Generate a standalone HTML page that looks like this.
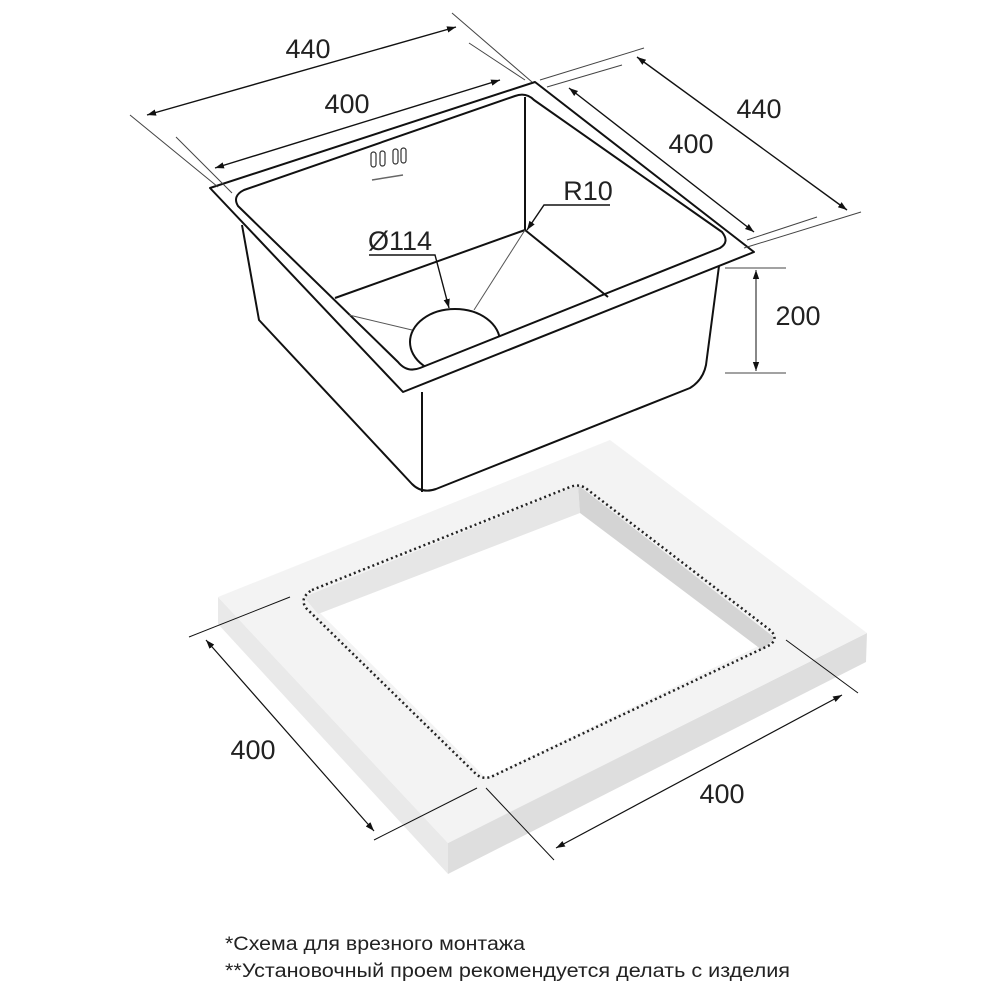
<!DOCTYPE html>
<html><head><meta charset="utf-8"><style>
html,body{margin:0;padding:0;background:#fff;}
svg{display:block;}
text{font-family:"Liberation Sans","DejaVu Sans",sans-serif;fill:#222;}
</style></head><body>
<svg width="1000" height="1000" viewBox="0 0 1000 1000" xmlns="http://www.w3.org/2000/svg">
<defs>
<marker id="ar" viewBox="0 0 10 10" refX="10" refY="5" markerWidth="9" markerHeight="9" orient="auto-start-reverse" markerUnits="userSpaceOnUse"><path d="M0,1.5 L10,5 L0,8.5 z" fill="#111"/></marker>
<clipPath id="bowl"><path d="M244,190 L515,96 Q526,92 534,100 L722,232 Q730,242 720,248 L420,368 Q407,373 398,362 L238,206 Q232,196 244,190 Z"/></clipPath>
</defs>

<!-- countertop slab -->
<polygon points="218,597 218,624 448,874 448,843" fill="#e9e9e9"/>
<polygon points="448,843 448,874 866,662 867,633" fill="#dedede"/>
<polygon points="218,597 610,440 867,633 448,843" fill="#f3f3f3"/>
<!-- hole -->
<polygon points="304,597 578,485 775,638 486,778" fill="#fff"/>
<polygon points="304,597 578,485 580,513 318,614" fill="#e6e6e6"/>
<polygon points="578,485 775,638 762,650 580,513" fill="#d4d4d4"/>
<path d="M312,590 L570,487 Q580,483 588,490 L770,630 Q779,638 770,645 L495,775 Q484,781 476,774 L306,608 Q299,598 312,590 Z" fill="none" stroke="#222" stroke-width="2.5" stroke-dasharray="2,3"/>

<!-- sink body -->
<g fill="none" stroke="#111" stroke-width="2" stroke-linejoin="round">
<path d="M242,225 L259,320 L412,484 Q422,494 436,489 L690,388 Q703,380 706,365 L719,266" fill="#fff"/>
<line x1="422" y1="392" x2="422" y2="492"/>
<path d="M210,188 L535,82 L754,252 L403,392 Z" fill="#fff"/>
<line x1="525" y1="97" x2="525" y2="230"/>
<line x1="335" y1="298" x2="525" y2="230"/>
<line x1="525" y1="230" x2="608" y2="297"/>
<ellipse cx="455" cy="342" rx="45" ry="33" fill="#fff" clip-path="url(#bowl)"/>
<path d="M244,190 L515,96 Q526,92 534,100 L722,232 Q730,242 720,248 L420,368 Q407,373 398,362 L238,206 Q232,196 244,190 Z"/>
</g>
<g stroke="#555" stroke-width="1" fill="none">
<line x1="349" y1="315" x2="412" y2="330"/>
<line x1="474" y1="310" x2="525" y2="230"/>
</g>
<!-- overflow -->
<g fill="none" stroke="#333" stroke-width="1.2">
<rect x="371" y="152" width="5" height="15" rx="2.5"/>
<rect x="380" y="151" width="5" height="15" rx="2.5"/>
<rect x="393" y="149" width="5" height="15" rx="2.5"/>
<rect x="401" y="148" width="5" height="15" rx="2.5"/>
</g>
<line x1="372" y1="180" x2="403" y2="175" stroke="#666" stroke-width="1.5"/>

<!-- dimension extension lines top -->
<g stroke="#444" stroke-width="1">
<line x1="130" y1="115" x2="218" y2="187"/>
<line x1="176" y1="137" x2="232" y2="193"/>
<line x1="452" y1="13" x2="532" y2="82"/>
<line x1="469" y1="43" x2="525" y2="80"/>
<line x1="540" y1="80" x2="644" y2="48"/>
<line x1="547" y1="87" x2="622" y2="65"/>
<line x1="744" y1="248" x2="861" y2="212"/>
<line x1="747" y1="240" x2="817" y2="217"/>
<line x1="725" y1="268" x2="786" y2="268"/>
<line x1="725" y1="373" x2="786" y2="373"/>
</g>
<g stroke="#111" stroke-width="1.4" fill="none">
<line x1="147" y1="115" x2="456" y2="27" marker-start="url(#ar)" marker-end="url(#ar)"/>
<line x1="215" y1="168" x2="500" y2="80" marker-start="url(#ar)" marker-end="url(#ar)"/>
<line x1="637" y1="57" x2="847" y2="210" marker-start="url(#ar)" marker-end="url(#ar)"/>
<line x1="569" y1="88" x2="754" y2="232" marker-start="url(#ar)" marker-end="url(#ar)"/>
<line x1="756" y1="270" x2="756" y2="371" marker-start="url(#ar)" marker-end="url(#ar)" stroke-width="1"/>
<polyline points="610,205 544,205 527,230" marker-end="url(#ar)"/>
<polyline points="369,255 435,255 449,308" marker-end="url(#ar)"/>
</g>
<text x="308" y="58" font-size="27" text-anchor="middle">440</text>
<text x="347" y="113" font-size="27" text-anchor="middle">400</text>
<text x="759" y="118" font-size="27" text-anchor="middle">440</text>
<text x="691" y="153" font-size="27" text-anchor="middle">400</text>
<text x="588" y="200" font-size="27" text-anchor="middle">R10</text>
<text x="400" y="250" font-size="27" text-anchor="middle">Ø114</text>
<text x="798" y="325" font-size="27" text-anchor="middle">200</text>

<!-- bottom dims -->
<g stroke="#111" stroke-width="1">
<line x1="189" y1="637" x2="290" y2="597"/>
<line x1="374" y1="840" x2="477" y2="788"/>
<line x1="786" y1="640" x2="858" y2="693"/>
<line x1="486" y1="788" x2="554" y2="860"/>
</g>
<g stroke="#111" stroke-width="1.2">
<line x1="206" y1="640" x2="374" y2="831" marker-start="url(#ar)" marker-end="url(#ar)"/>
<line x1="556" y1="848" x2="842" y2="695" marker-start="url(#ar)" marker-end="url(#ar)"/>
</g>
<text x="253" y="759" font-size="27" text-anchor="middle">400</text>
<text x="722" y="803" font-size="27" text-anchor="middle">400</text>

<text x="225" y="950" font-size="19" textLength="300" lengthAdjust="spacingAndGlyphs">*Схема для врезного монтажа</text>
<text x="225" y="977" font-size="19" textLength="565" lengthAdjust="spacingAndGlyphs">**Установочный проем рекомендуется делать с изделия</text>
</svg>
</body></html>
